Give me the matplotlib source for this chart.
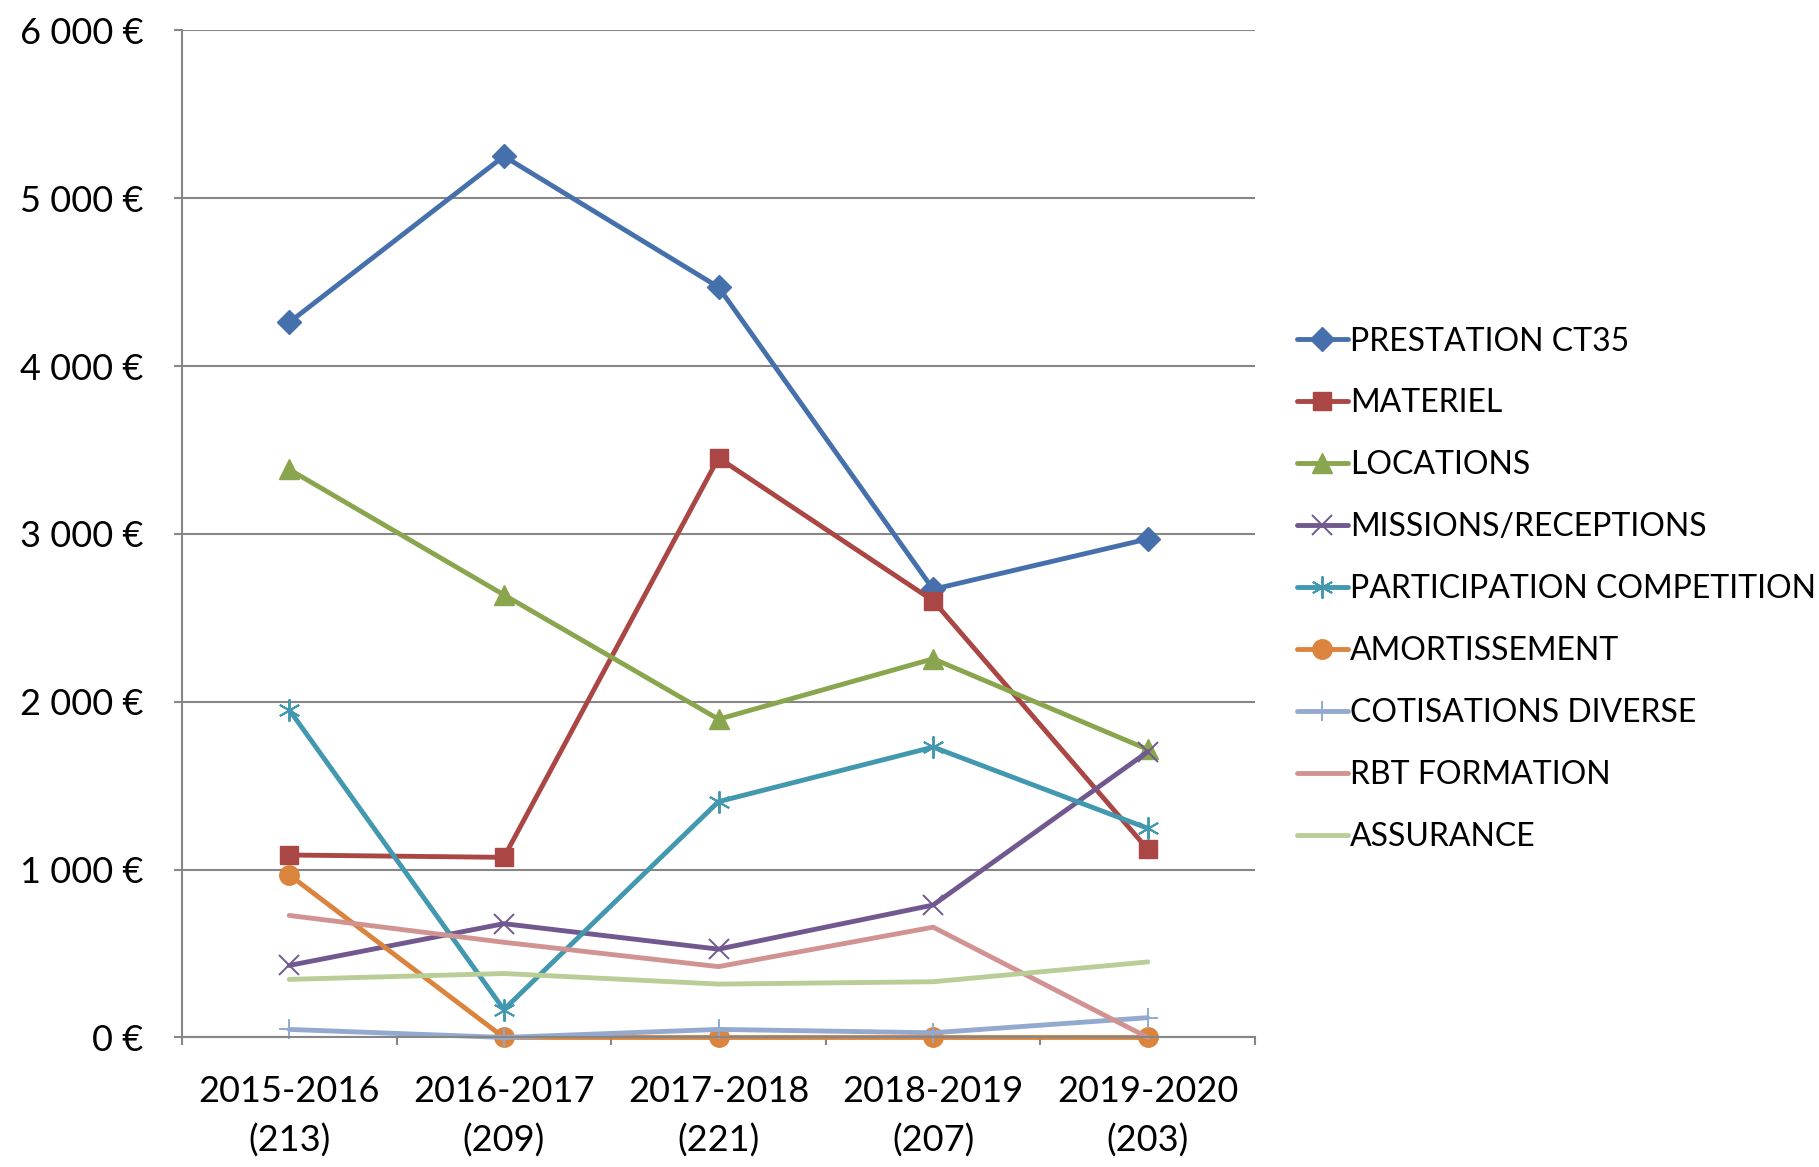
import numpy as np
import matplotlib
matplotlib.use("Agg")
from matplotlib import pyplot as plt
from matplotlib.ticker import FuncFormatter, FixedLocator

plt.rcParams['font.family'] = ['Lato', 'DejaVu Sans']

saisons = ["2015-2016\n(213)", "2016-2017\n(209)", "2017-2018\n(221)",
           "2018-2019\n(207)", "2019-2020\n(203)"]

prestation = [4260, 5250, 4470, 2670, 2970]
materiel = [1087, 1073, 3453, 2602, 1121]
locations = [3384, 2637, 1896, 2256, 1716]
missions = [429, 678, 526, 789, 1702]
participation = [1952, 166, 1405, 1730, 1246]
amortissement = [969, 0, 0, 0, 0]
cotisations = [48, 0, 48, 28, 118]
rbt_formation = [727, 567, 422, 657, 0]
assurance = [346, 381, 318, 332, 450]

series = [
    ("PRESTATION CT35", prestation, '#4670AB', 'D', 12),
    ("MATERIEL", materiel, '#AA4643', 's', 13.5),
    ("LOCATIONS", locations, '#89A54E', '^', 15),
    ("MISSIONS/RECEPTIONS", missions, '#71588F', 'x', 14),
    ("PARTICIPATION COMPETITION", participation, '#4198AF', (6, 2, 0), 16),
    ("AMORTISSEMENT", amortissement, '#DB843D', 'o', 14),
    ("COTISATIONS DIVERSE", cotisations, '#93A9CF', '+', 15),
    ("RBT FORMATION", rbt_formation, '#D19392', None, 0),
    ("ASSURANCE", assurance, '#B9CD96', None, 0),
]

fig = plt.figure(figsize=(18.19, 11.67), dpi=100)
ax = fig.add_axes([0.100, 0.111, 0.590, 0.863])

x = np.arange(len(saisons)) + 0.5
for name, vals, col, mk, ms in series:
    if mk is None:
        ax.plot(x, vals, color=col, lw=3.5, label=name, solid_capstyle='round',
                clip_on=False)
    else:
        mew = 1.4 if mk in ('x', '+') or isinstance(mk, tuple) else 1
        ax.plot(x, vals, color=col, lw=3.5, marker=mk, markersize=ms,
                markeredgewidth=mew, markeredgecolor=col, label=name,
                solid_capstyle='round', clip_on=False)

ax.set_xlim(0, len(saisons))
ax.set_ylim(0, 6000)
ax.set_yticks(np.arange(0, 6001, 1000))
ax.yaxis.set_major_formatter(FuncFormatter(lambda v, p: f"{int(v):,}".replace(',', ' ') + " €"))
ax.grid(axis='y', color='#868686', lw=1.5)
ax.set_axisbelow(True)

ax.set_xticks(x)
ax.set_xticklabels(saisons, linespacing=1.55)
ax.xaxis.set_minor_locator(FixedLocator(np.arange(0, len(saisons) + 1)))
ax.tick_params(axis='x', which='major', length=0, pad=27, labelsize=26)
ax.tick_params(axis='x', which='minor', length=6, width=1.5, color='#868686', direction='out')
ax.tick_params(axis='y', length=6, width=1.5, color='#868686', pad=22, labelsize=26)

for s in ['top', 'right']:
    ax.spines[s].set_visible(False)
for s in ['left', 'bottom']:
    ax.spines[s].set_color('#868686')
    ax.spines[s].set_linewidth(1.5)

ax.legend(loc='center left', bbox_to_anchor=(1.027, 0.445), frameon=False,
          fontsize=23, handlelength=1.6, handletextpad=0.06, labelspacing=1.0,
          borderaxespad=0)

fig.savefig("out.png", dpi=100)
